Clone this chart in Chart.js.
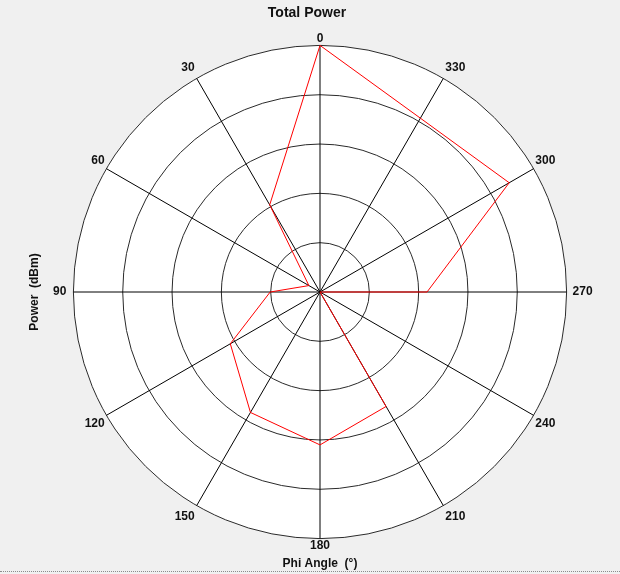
<!DOCTYPE html>
<html>
<head>
<meta charset="utf-8">
<title>Total Power</title>
<script src="https://cdn.jsdelivr.net/npm/chart.js@4/dist/chart.umd.min.js"></script>
<style>
  html, body { margin: 0; padding: 0; background: #f0f0f0; }
  #wrap { position: relative; width: 620px; height: 574px; }
  #powerChart { display: block; }
  #footerLine {
    position: absolute; left: 0; top: 571px; width: 620px; height: 0;
    border-top: 1px dotted #8c8c8c;
  }
</style>
</head>
<body>
<div id="wrap">
  <canvas id="powerChart" width="620" height="574"></canvas>
  <div id="footerLine"></div>
</div>
<script>
// Phi angles (degrees) in natural order, and the measured power at each
const phiAngles = [0, 30, 60, 90, 120, 150, 180, 210, 240, 270, 300, 330];
const powerDbm = [0, -29.6, -47.4, -39.9, -29.0, -21.8, -19.0, -23.2, -50, -28.3, -5.7, -9.3];

// radial axis range (rings every 10 dB)
const powerMin = -50;
const powerMax = 0;
const powerStep = 10;

const chartTitle = "Total Power";
const xAxisTitle = "Phi Angle  (°)";
const yAxisTitle = "Power  (dBm)";

// label gap from the outer ring, per angle as placed on the chart
const labelPad = [0, 4, 2, 6, 2, 4, 0, 4, 2, 7, 2, 4];

Chart.defaults.font.family = '"Liberation Sans", Arial, sans-serif';

// phi runs counter-clockwise, radar runs clockwise from the top
const order = phiAngles.map((_, k) => (phiAngles.length - k) % phiAngles.length);
const labels = order.map((i) => String(phiAngles[i]));
const values = order.map((i) => powerDbm[i]);

const axisTextPlugin = {
  id: "axisText",
  afterDraw(chart) {
    const ctx = chart.ctx;
    const r = chart.scales.r;
    ctx.save();
    ctx.fillStyle = "#111";
    ctx.textAlign = "center";
    ctx.textBaseline = "middle";
    ctx.font = 'bold 14px "Liberation Sans", Arial, sans-serif';
    ctx.fillText(chartTitle, r.xCenter - 13, 13);
    ctx.font = 'bold 12px "Liberation Sans", Arial, sans-serif';
    ctx.translate(35, r.yCenter);
    ctx.rotate(-Math.PI / 2);
    ctx.fillText(yAxisTitle, 0, 0);
    ctx.restore();
  },
};

new Chart(document.getElementById("powerChart"), {
  type: "radar",
  data: {
    labels,
    datasets: [
      {
        label: chartTitle,
        data: values,
        borderColor: "#ff0000",
        borderWidth: 1,
        pointRadius: 0,
        pointHoverRadius: 0,
        fill: false,
        tension: 0,
      },
    ],
  },
  options: {
    responsive: false,
    animation: false,
    devicePixelRatio: 1,
    layout: { padding: { top: 31, left: 20, right: 0, bottom: 0 } },
    scales: {
      r: {
        min: powerMin,
        max: powerMax,
        startAngle: 0,
        backgroundColor: "#ffffff",
        ticks: { stepSize: powerStep, display: false },
        grid: { circular: true, color: "#2a2a2a", lineWidth: 1 },
        angleLines: { color: "#000000", lineWidth: 1 },
        pointLabels: {
          color: "#111",
          font: { size: 12, weight: "bold" },
          padding: (ctx) => labelPad[ctx.index],
        },
      },
    },
    plugins: {
      legend: { display: false },
      tooltip: { enabled: false },
      title: {
        display: true,
        position: "bottom",
        text: xAxisTitle,
        color: "#111",
        font: { size: 12, weight: "bold" },
        padding: { top: 3.8, bottom: 2.8 },
      },
    },
  },
  plugins: [axisTextPlugin],
});
</script>
</body>
</html>
